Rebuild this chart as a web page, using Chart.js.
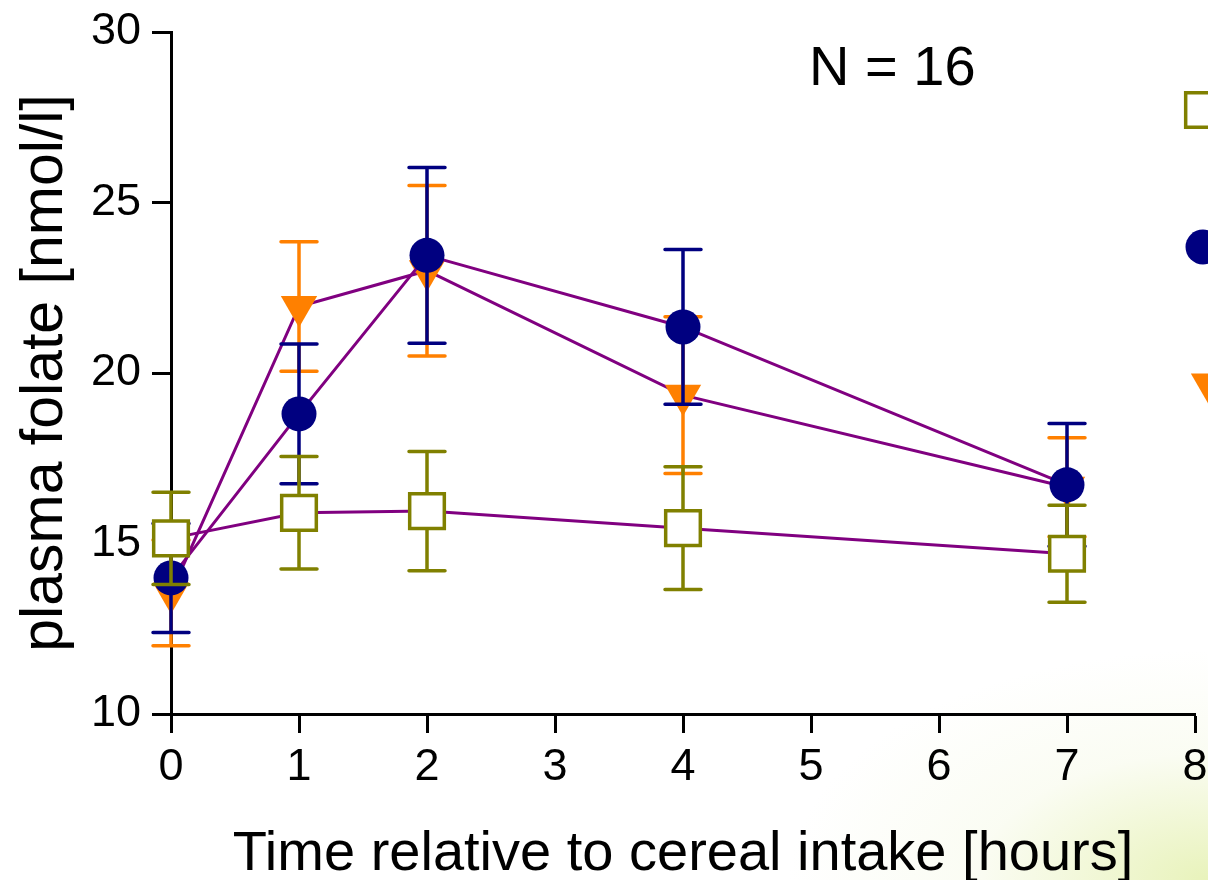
<!DOCTYPE html>
<html>
<head>
<meta charset="utf-8">
<script src="https://cdn.jsdelivr.net/npm/chart.js@4/dist/chart.umd.min.js"></script>
<style>
    html, body {
        margin: 0;
        padding: 0;
        width: 1208px;
        height: 880px;
        overflow: hidden;
        background: #ffffff radial-gradient(ellipse 420px 230px at 100% 100%, rgba(220, 236, 150, 0.65), rgba(240, 246, 215, 0.3) 55%, rgba(255, 255, 255, 0) 100%);
    }
    #wrap {
        position: relative;
        width: 1208px;
        height: 880px;
    }
</style>
</head>
<body>
<div id="wrap"><canvas id="grafico"></canvas></div>
<script>
// tempos (horas)
const tempos = [0, 1, 2, 4, 7];

// plasma folate médio e erro padrão por série
const serieQuadrado = [15.15, 15.9, 15.95, 15.45, 14.7];
const erroQuadrado  = [1.35, 1.65, 1.75, 1.8, 1.42];

const serieCirculo = [13.99, 18.8, 23.45, 21.35, 16.72];
const erroCirculo  = [1.6, 2.05, 2.58, 2.27, 1.8];

const serieTriangulo = [13.55, 21.95, 23.0, 19.35, 16.65];
const erroTriangulo  = [1.55, 1.9, 2.5, 2.3, 1.45];

const xTicks = [0, 1, 2, 3, 4, 5, 6, 7, 8];
const yTicks = [10, 15, 20, 25, 30];

const fonte = "'Liberation Sans', Arial, sans-serif";
const corLinha = '#800080';

function pontos(valores) {
    return tempos.map((t, i) => ({ x: t, y: valores[i] }));
}

const series = [
    { valores: serieQuadrado, erros: erroQuadrado, cor: '#808000', estilo: 'rect', raio: 24.5, fundo: '#ffffff', borda: 3.5, rot: 0 },
    { valores: serieCirculo, erros: erroCirculo, cor: '#000080', estilo: 'circle', raio: 17.5, fundo: '#000080', borda: 0, rot: 0 },
    { valores: serieTriangulo, erros: erroTriangulo, cor: '#ff8000', estilo: 'triangle', raio: 21, fundo: '#ff8000', borda: 0, rot: 180 }
];

// barras de erro desenhadas logo antes de cada dataset
const errorBars = {
    id: 'errorBars',
    beforeDatasetDraw(chart, args) {
        const s = series[args.index];
        const ctx = chart.ctx;
        const xs = chart.scales.x;
        const ys = chart.scales.y;
        ctx.save();
        ctx.strokeStyle = s.cor;
        ctx.lineWidth = 3.5;
        ctx.lineCap = 'round';
        s.valores.forEach((v, i) => {
            const px = xs.getPixelForValue(tempos[i]);
            const top = ys.getPixelForValue(v + s.erros[i]);
            const bot = ys.getPixelForValue(v - s.erros[i]);
            ctx.beginPath();
            ctx.moveTo(px, top);
            ctx.lineTo(px, bot);
            ctx.moveTo(px - 18, top);
            ctx.lineTo(px + 18, top);
            ctx.moveTo(px - 18, bot);
            ctx.lineTo(px + 18, bot);
            ctx.stroke();
        });
        ctx.restore();
    }
};

// texto N = 16 e símbolos da legenda (cortados na borda direita)
const extras = {
    id: 'extras',
    afterDraw(chart) {
        const ctx = chart.ctx;
        const area = chart.chartArea;
        ctx.save();
        ctx.fillStyle = '#000';
        ctx.font = '56px ' + fonte;
        ctx.textBaseline = 'alphabetic';
        ctx.textAlign = 'left';
        ctx.fillText('N = 16', area.left + 638, area.top + 53);

        series.forEach((s, i) => {
            ctx.fillStyle = s.fundo;
            ctx.strokeStyle = s.cor;
            ctx.lineWidth = s.borda;
            Chart.helpers.drawPoint(ctx, {
                pointStyle: s.estilo,
                radius: s.raio,
                rotation: s.rot,
                borderWidth: s.borda
            }, area.right + 8 + (i === 2 ? 6 : 0), area.top + 78 + i * 137);
        });
        ctx.restore();
    }
};

function semPadding(scale) {
    scale.paddingLeft = 0;
    scale.paddingRight = 0;
    scale.paddingTop = 0;
    scale.paddingBottom = 0;
}

const ctx = document.getElementById('grafico').getContext('2d');
new Chart(ctx, {
    type: 'line',
    data: {
        datasets: series.map(s => ({
            data: pontos(s.valores),
            borderColor: corLinha,
            borderWidth: 3,
            fill: false,
            tension: 0,
            clip: false,
            pointStyle: s.estilo,
            pointRadius: s.raio,
            pointHoverRadius: s.raio,
            pointRotation: s.rot,
            pointBackgroundColor: s.fundo,
            pointBorderColor: s.cor,
            pointBorderWidth: s.borda
        }))
    },
    options: {
        responsive: true,
        maintainAspectRatio: false,
        animation: false,
        events: [],
        layout: {
            autoPadding: false,
            padding: { top: 32, right: 13, left: 0, bottom: 0 }
        },
        plugins: {
            legend: { display: false },
            tooltip: { enabled: false }
        },
        scales: {
            x: {
                type: 'linear',
                min: 0,
                max: 8,
                afterFit: scale => { scale.height = 166; semPadding(scale); },
                afterBuildTicks: scale => { scale.ticks = xTicks.map(v => ({ value: v })); },
                grid: {
                    drawOnChartArea: false,
                    drawTicks: true,
                    tickLength: 19,
                    tickWidth: 3,
                    tickColor: '#000'
                },
                border: { display: true, color: '#000', width: 3 },
                ticks: {
                    color: '#000',
                    padding: 8,
                    font: { family: fonte, size: 45 }
                },
                title: {
                    display: true,
                    text: 'Time relative to cereal intake [hours]',
                    color: '#000',
                    padding: { top: 0, bottom: 0 },
                    font: { family: fonte, size: 56, lineHeight: 0.9 }
                }
            },
            y: {
                min: 10,
                max: 30,
                z: 1,
                afterFit: scale => { scale.width = 171; semPadding(scale); },
                afterBuildTicks: scale => { scale.ticks = yTicks.map(v => ({ value: v })); },
                grid: {
                    drawOnChartArea: false,
                    drawTicks: true,
                    tickLength: 19,
                    tickWidth: 3,
                    tickColor: '#000'
                },
                border: { display: true, color: '#000', width: 3 },
                ticks: {
                    color: '#000',
                    padding: 11,
                    font: { family: fonte, size: 45 }
                },
                title: {
                    display: true,
                    text: 'plasma folate [nmol/l]',
                    color: '#000',
                    padding: { top: 16, bottom: 0 },
                    font: { family: fonte, size: 59, lineHeight: 1 }
                }
            }
        }
    },
    plugins: [errorBars, extras]
});
</script>
</body>
</html>
